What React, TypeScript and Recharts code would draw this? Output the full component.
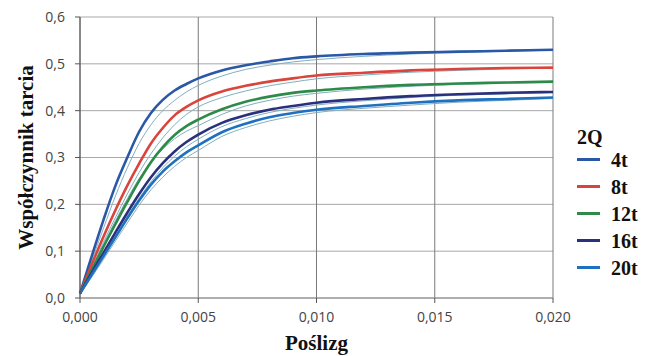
import React from 'react';
import { LineChart, Line, XAxis, YAxis, CartesianGrid, Label } from 'recharts';

// slip values (x) and friction coefficient per load
const slip = [0, 0.0005, 0.001, 0.0015, 0.002, 0.0025, 0.003, 0.0035, 0.004, 0.0045, 0.005, 0.006, 0.007, 0.008, 0.009, 0.01, 0.012, 0.014, 0.016, 0.018, 0.02];

const t4 = [0.01, 0.09, 0.168, 0.24, 0.3, 0.355, 0.395, 0.423, 0.443, 0.457, 0.469, 0.486, 0.497, 0.505, 0.512, 0.516, 0.521, 0.524, 0.526, 0.528, 0.53];
const t8 = [0.01, 0.072, 0.132, 0.188, 0.24, 0.287, 0.33, 0.363, 0.39, 0.408, 0.422, 0.441, 0.453, 0.462, 0.469, 0.475, 0.481, 0.486, 0.489, 0.491, 0.492];
const t12 = [0.01, 0.06, 0.11, 0.158, 0.205, 0.25, 0.29, 0.322, 0.348, 0.367, 0.381, 0.403, 0.419, 0.43, 0.438, 0.443, 0.45, 0.455, 0.458, 0.46, 0.462];
const t16 = [0.01, 0.054, 0.097, 0.14, 0.182, 0.222, 0.258, 0.288, 0.313, 0.333, 0.349, 0.374, 0.39, 0.402, 0.41, 0.417, 0.425, 0.431, 0.435, 0.438, 0.44];
const t20 = [0.01, 0.05, 0.09, 0.13, 0.17, 0.208, 0.242, 0.27, 0.292, 0.311, 0.326, 0.354, 0.372, 0.386, 0.395, 0.402, 0.41, 0.417, 0.422, 0.425, 0.428];

// thin companion (fitted) curves
const f4 = [0.01, 0.08, 0.15, 0.218, 0.278, 0.33, 0.37, 0.4, 0.422, 0.44, 0.454, 0.474, 0.488, 0.497, 0.504, 0.509, 0.516, 0.521, 0.524, 0.527, 0.529];
const f8 = [0.01, 0.064, 0.12, 0.172, 0.222, 0.268, 0.308, 0.342, 0.37, 0.392, 0.408, 0.428, 0.442, 0.453, 0.461, 0.468, 0.476, 0.482, 0.486, 0.489, 0.491];
const f12 = [0.01, 0.062, 0.115, 0.165, 0.212, 0.255, 0.29, 0.318, 0.34, 0.356, 0.368, 0.392, 0.41, 0.422, 0.431, 0.437, 0.446, 0.452, 0.456, 0.459, 0.461];
const f16 = [0.01, 0.05, 0.09, 0.132, 0.174, 0.213, 0.248, 0.278, 0.303, 0.323, 0.339, 0.366, 0.383, 0.396, 0.405, 0.412, 0.421, 0.428, 0.433, 0.436, 0.439];
const f20 = [0.01, 0.045, 0.083, 0.122, 0.16, 0.198, 0.231, 0.258, 0.281, 0.3, 0.315, 0.345, 0.364, 0.378, 0.388, 0.396, 0.405, 0.412, 0.418, 0.422, 0.426];

const xTicks = [0, 0.005, 0.01, 0.015, 0.02];
const yTicks = [0, 0.1, 0.2, 0.3, 0.4, 0.5, 0.6];

const series = [
  { key: 't4', name: '4t', values: t4, fit: f4, color: '#2a58a6' },
  { key: 't8', name: '8t', values: t8, fit: f8, color: '#d9443c' },
  { key: 't12', name: '12t', values: t12, fit: f12, color: '#2e8a48' },
  { key: 't16', name: '16t', values: t16, fit: f16, color: '#2b307c' },
  { key: 't20', name: '20t', values: t20, fit: f20, color: '#2070c0' },
];

const data = slip.map((x, i) => {
  const row: any = { x };
  series.forEach((s) => {
    row[s.key] = s.values[i];
    row[s.key + 'f'] = s.fit[i];
  });
  return row;
});

const tickStyle = { fill: '#444', fontSize: 14, fontFamily: 'Open Sans' };
const titleFont = 'Liberation Serif';

const App = () => {
  return (
    <div style={{ position: 'absolute', left: 0, top: 0, width: 649, height: 356, background: '#fff' }}>
      <LineChart width={649} height={356} data={data} margin={{ top: 17, right: 96, left: 0, bottom: 0 }}>
        <CartesianGrid horizontal vertical={false} stroke="#a8a8a8" />
        <CartesianGrid horizontal={false} vertical stroke="#7a7a7a" />
        <XAxis
          dataKey="x"
          type="number"
          domain={[0, 0.02]}
          ticks={xTicks}
          tickFormatter={(v: number) => v.toFixed(3).replace('.', ',')}
          height={58}
          tick={tickStyle}
          tickSize={5}
          tickMargin={9}
          axisLine={{ stroke: '#8a8a8a' }}
          tickLine={{ stroke: '#555' }}
        >
          <Label
            value="Poślizg"
            position="insideBottom"
            offset={6}
            style={{ fontFamily: titleFont, fontWeight: 'bold', fontSize: 21, fill: '#111' }}
          />
        </XAxis>
        <YAxis
          type="number"
          domain={[0, 0.6]}
          ticks={yTicks}
          tickFormatter={(v: number) => v.toFixed(1).replace('.', ',')}
          width={80}
          tick={tickStyle}
          tickSize={5}
          tickMargin={10}
          axisLine={{ stroke: '#555' }}
          tickLine={{ stroke: '#555' }}
        >
          <Label
            value="Współczynnik tarcia"
            angle={-90}
            position="insideLeft"
            offset={26}
            style={{ textAnchor: 'middle', fontFamily: titleFont, fontWeight: 'bold', fontSize: 21, fill: '#111' }}
          />
        </YAxis>
        {series.map((s) => (
          <Line
            key={s.key + 'f'}
            dataKey={s.key + 'f'}
            type="monotone"
            stroke="#7fb0bf"
            strokeWidth={1}
            dot={false}
            isAnimationActive={false}
          />
        ))}
        {series.map((s) => (
          <Line
            key={s.key}
            dataKey={s.key}
            name={s.name}
            type="monotone"
            stroke={s.color}
            strokeWidth={2.6}
            dot={false}
            isAnimationActive={false}
          />
        ))}
      </LineChart>
      <div style={{ position: 'absolute', left: 577, top: 126, fontFamily: titleFont, fontWeight: 'bold', color: '#111' }}>
        <div style={{ fontSize: 20, lineHeight: '22px', height: 20 }}>2Q</div>
        {series.map((s) => (
          <div key={s.key} style={{ display: 'flex', alignItems: 'center', height: 27 }}>
            <div style={{ width: 23, height: 3, background: s.color, marginRight: 11 }} />
            <span style={{ fontSize: 20, lineHeight: '20px' }}>{s.name}</span>
          </div>
        ))}
      </div>
    </div>
  );
};

export default App;
